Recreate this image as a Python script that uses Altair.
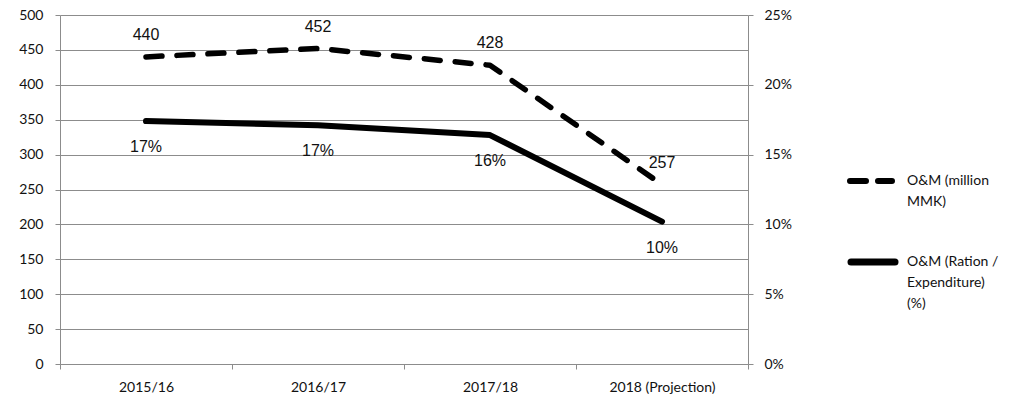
import altair as alt
import pandas as pd

years = ["2015/16", "2016/17", "2017/18", "2018 (Projection)"]
om_million = [440, 452, 428, 257]
om_ratio = [17.4, 17.1, 16.4, 10.2]
left_ticks = [0, 50, 100, 150, 200, 250, 300, 350, 400, 450, 500]
right_ticks = [0, 5, 10, 15, 20, 25]
legend_labels = ["O&M (million|MMK)", "O&M (Ration /|Expenditure)|(%)"]

df = pd.DataFrame({"year": years, "million": om_million, "ratio": om_ratio})

AX_FONT = "Lato"
LBL_FONT = "Liberation Sans"
GRAY = "#8c8c8c"

x = alt.X(
    "year:N", sort=years, bandPosition=0.5,
    scale=alt.Scale(type="band", paddingInner=0, paddingOuter=0),
    axis=alt.Axis(title=None, tickBand="extent", labelAngle=0, labelFont=AX_FONT,
                  labelFontSize=14, labelColor="#111", domainColor=GRAY, tickColor=GRAY,
                  tickSize=5, labelPadding=11, grid=False),
)

y_left = alt.Y(
    "million:Q", scale=alt.Scale(domain=[0, 500], nice=False),
    axis=alt.Axis(title=None, values=left_ticks, grid=True, gridColor=GRAY, gridWidth=1.2,
                  labelFont=AX_FONT, labelFontSize=14, labelColor="#111", domainColor=GRAY,
                  tickColor=GRAY, tickSize=5, labelPadding=12),
)
y_right = alt.Y(
    "ratio:Q", scale=alt.Scale(domain=[0, 25], nice=False),
    axis=alt.Axis(title=None, orient="right", values=right_ticks, grid=False,
                  labelExpr="datum.value + '%'", labelFont=AX_FONT, labelFontSize=14,
                  labelColor="#111", domainColor=GRAY, tickColor=GRAY, tickSize=5,
                  labelPadding=11),
)

base = alt.Chart(df)
dashed = base.mark_line(color="black", strokeWidth=5.5, strokeDash=[16, 15],
                        strokeCap="round", strokeJoin="round").encode(x=x, y=y_left)
dashed_txt = base.mark_text(font=LBL_FONT, fontSize=16, color="#111", dy=-22,
                            baseline="middle").encode(x=x, y=y_left, text=alt.Text("million:Q"))
left = alt.layer(dashed, dashed_txt)

solid = base.mark_line(color="black", strokeWidth=6, strokeCap="round",
                       strokeJoin="round").encode(x=x, y=y_right)
solid_txt = base.transform_calculate(lab="format(datum.ratio, '.0f') + '%'").mark_text(
    font=LBL_FONT, fontSize=16, color="#111", dy=26, baseline="middle"
).encode(x=x, y=y_right, text="lab:N")
right = alt.layer(solid, solid_txt)

leg1 = pd.DataFrame({"label": [legend_labels[0]]})
leg2 = pd.DataFrame({"label": [legend_labels[1]]})
leg_rule1 = alt.Chart(leg1).mark_rule(color="black", strokeWidth=6, strokeDash=[16, 12],
                                      strokeCap="round").encode(
    x=alt.value(790), x2=alt.value(832), y=alt.value(166))
leg_rule2 = alt.Chart(leg2).mark_rule(color="black", strokeWidth=7, strokeCap="round").encode(
    x=alt.value(791), x2=alt.value(835), y=alt.value(247))
leg_txt1 = alt.Chart(leg1).mark_text(font=AX_FONT, fontSize=14, color="#111", align="left",
                                     baseline="alphabetic", lineBreak="|", lineHeight=21).encode(
    x=alt.value(847), y=alt.value(170), text="label:N")
leg_txt2 = alt.Chart(leg2).mark_text(font=AX_FONT, fontSize=14, color="#111", align="left",
                                     baseline="alphabetic", lineBreak="|", lineHeight=21).encode(
    x=alt.value(847), y=alt.value(251), text="label:N")

chart = alt.layer(left, right, leg_rule1, leg_rule2, leg_txt1, leg_txt2).resolve_scale(
    y="independent"
).properties(
    width=688, height=349, autosize="none",
    padding={"left": 60, "top": 15, "right": 275, "bottom": 35},
    background="white",
).configure_view(stroke=None)

chart.save("out.html", embed_options={"renderer": "svg", "actions": False})
